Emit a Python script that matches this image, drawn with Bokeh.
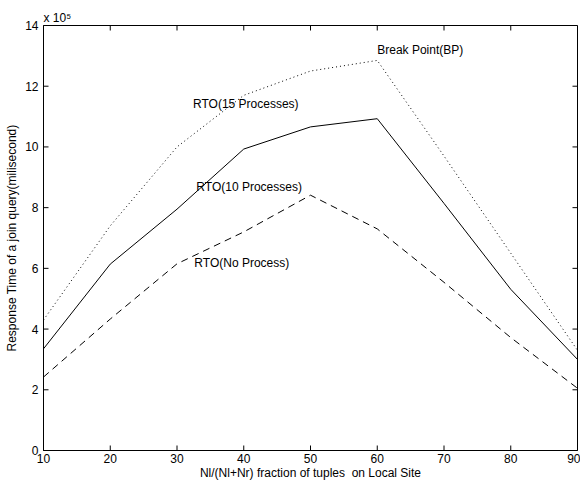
from bokeh.plotting import figure
from bokeh.models import FixedTicker, Range1d
from bokeh.core.properties import value
from bokeh.embed import file_html
from bokeh.resources import INLINE

# Data (response time in units of 1e5 milliseconds)
fraction = [10, 20, 30, 40, 50, 60, 70, 80, 90]
break_point = [4.3, 7.4, 10.0, 11.7, 12.5, 12.85, 9.7, 6.5, 3.3]
rto_10 = [3.35, 6.14, 7.95, 9.93, 10.66, 10.93, 8.14, 5.31, 3.0]
rto_none = [2.42, 4.33, 6.15, 7.2, 8.41, 7.3, 5.54, 3.72, 2.05]

x_ticks = [10, 20, 30, 40, 50, 60, 70, 80, 90]
y_ticks = [0, 2, 4, 6, 8, 10, 12, 14]

label_texts = ["Break Point(BP)", "RTO(15 Processes)", "RTO(10 Processes)", "RTO(No Process)"]
label_x = [60.0, 32.4, 32.9, 32.6]
label_y = [13.2, 11.43, 8.68, 6.17]

FONT = "Liberation Sans"
FS = "12px"
X0, X1, Y0, Y1 = 10, 90, 0, 14
W, H = 580, 482
LEFT, RIGHT, TOP, BOTTOM = 43, 3, 25, 32

p = figure(width=W, height=H, x_range=Range1d(X0, X1), y_range=Range1d(Y0, Y1),
           output_backend="svg", toolbar_location=None,
           min_border_left=LEFT, min_border_right=RIGHT, min_border_top=TOP, min_border_bottom=BOTTOM)
p.xgrid.visible = False
p.ygrid.visible = False
p.outline_line_color = "black"
p.outline_line_width = 1
p.background_fill_color = "white"
p.border_fill_color = "white"

p.title.text = "x 10\u2075"
p.title.align = "left"
p.title.text_font = FONT
p.title.text_font_size = FS
p.title.text_font_style = "normal"
p.title.text_color = "black"
p.title.standoff = 2
p.title.offset = 0

for ax, ticks in ((p.xaxis[0], x_ticks), (p.yaxis[0], y_ticks)):
    ax.ticker = FixedTicker(ticks=ticks)
    ax.minor_tick_line_color = None
    ax.major_tick_in = 0
    ax.major_tick_out = 0
    ax.axis_line_color = "black"
    ax.major_label_text_font = FONT
    ax.major_label_text_font_size = FS
    ax.major_label_text_color = "black"
    ax.axis_label_text_font = FONT
    ax.axis_label_text_font_size = FS
    ax.axis_label_text_font_style = "normal"
    ax.axis_label_text_color = "black"

p.xaxis.axis_label = "Nl/(Nl+Nr) fraction of tuples\u00a0 on Local Site"
p.yaxis.axis_label = "Response Time of a join query(milisecond)"
p.xaxis.major_label_standoff = 3
p.xaxis.axis_label_standoff = 0
p.yaxis.major_label_standoff = 5
p.yaxis.axis_label_standoff = 3

# inward ticks on all four sides, 5 px long
TICK = 5
dx = TICK * (X1 - X0) / (W - LEFT - RIGHT)
dy = TICK * (Y1 - Y0) / (H - TOP - BOTTOM)
n_y, n_x = len(y_ticks), len(x_ticks)
p.segment(x0=[X0] * n_y, y0=y_ticks, x1=[X0 + dx] * n_y, y1=y_ticks, line_color="black", line_width=1)
p.segment(x0=[X1] * n_y, y0=y_ticks, x1=[X1 - dx] * n_y, y1=y_ticks, line_color="black", line_width=1)
p.segment(x0=x_ticks, y0=[Y0] * n_x, x1=x_ticks, y1=[Y0 + dy] * n_x, line_color="black", line_width=1)
p.segment(x0=x_ticks, y0=[Y1] * n_x, x1=x_ticks, y1=[Y1 - dy] * n_x, line_color="black", line_width=1)

p.line(fraction, break_point, line_color="black", line_width=1, line_dash="1 3")
p.line(fraction, rto_10, line_color="black", line_width=1)
p.line(fraction, rto_none, line_color="black", line_width=1, line_dash="7 5")

p.text(x=label_x, y=label_y, text=label_texts, text_font=value(FONT),
       text_font_size=FS, text_color="black", text_baseline="middle", text_align="left")

open("out.html", "w").write(file_html(p, INLINE))
